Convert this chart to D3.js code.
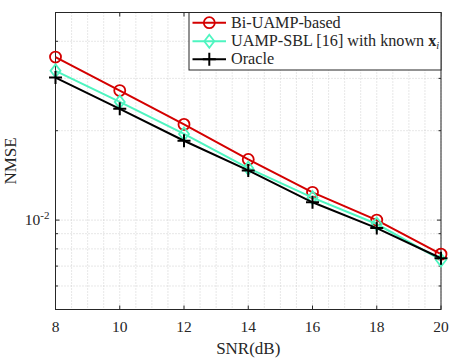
<!DOCTYPE html>
<html><head><meta charset="utf-8">
<script src="https://cdn.jsdelivr.net/npm/d3@7"></script>
<style>body{margin:0;background:#fff}svg{display:block}svg text{font-family:"Liberation Serif","Times New Roman",serif}</style>
</head><body>
<svg id="c" width="450" height="358"></svg>
<script>
const snr = [8, 10, 12, 14, 16, 18, 20];
const biUAMP = [0.0354, 0.0273, 0.0210, 0.0160, 0.0124, 0.0100, 0.00768];
const uampSBL = [0.0318, 0.0250, 0.0195, 0.01495, 0.0119, 0.0097, 0.00734];
const oracle = [0.0302, 0.0237, 0.0185, 0.0147, 0.01148, 0.0094, 0.00744];
const xTicks = [8, 10, 12, 14, 16, 18, 20];
const yMajor = [0.01];
const yMinor = [0.006, 0.007, 0.008, 0.009, 0.02, 0.03, 0.04];
const seriesNames = ["Bi-UAMP-based", "UAMP-SBL [16] with known x_i", "Oracle"];
const colors = ["#d40000", "#4ef5c0", "#000000"];

const svg = d3.select("#c");
const L = 55.5, R = 441, T = 12.5, B = 309.5;
const x = d3.scaleLinear().domain([8, 20]).range([L, R]);
const y = d3.scaleLog().domain([0.005, 0.05]).range([B, T]);
const axisCol = "#262626";

// grid
const g = svg.append("g");
const xMinor = d3.range(8, 20.01, 0.5);
g.selectAll(".gx").data(xMinor).enter().append("line")
  .attr("x1", d => x(d)).attr("x2", d => x(d)).attr("y1", T).attr("y2", B)
  .attr("stroke", "#c4c4c4").attr("stroke-width", 0.8).attr("stroke-dasharray", "1,2");
g.selectAll(".gy").data(yMinor.concat(yMajor)).enter().append("line")
  .attr("y1", d => y(d)).attr("y2", d => y(d)).attr("x1", L).attr("x2", R)
  .attr("stroke", "#c4c4c4").attr("stroke-width", 0.8).attr("stroke-dasharray", "1,2");

// axes box
svg.append("rect").attr("x", L).attr("y", T).attr("width", R - L).attr("height", B - T)
  .attr("fill", "none").attr("stroke", axisCol).attr("stroke-width", 1);

// ticks inward
const ax = svg.append("g").attr("stroke", axisCol).attr("stroke-width", 1);
xTicks.forEach(t => {
  ax.append("line").attr("x1", x(t)).attr("x2", x(t)).attr("y1", B).attr("y2", B - 4);
  ax.append("line").attr("x1", x(t)).attr("x2", x(t)).attr("y1", T).attr("y2", T + 4);
});
yMajor.forEach(t => {
  ax.append("line").attr("x1", L).attr("x2", L + 4).attr("y1", y(t)).attr("y2", y(t));
  ax.append("line").attr("x1", R).attr("x2", R - 4).attr("y1", y(t)).attr("y2", y(t));
});
yMinor.forEach(t => {
  ax.append("line").attr("x1", L).attr("x2", L + 2.5).attr("y1", y(t)).attr("y2", y(t));
  ax.append("line").attr("x1", R).attr("x2", R - 2.5).attr("y1", y(t)).attr("y2", y(t));
});

// tick labels
svg.selectAll(".xl").data(xTicks).enter().append("text")
  .attr("x", d => x(d)).attr("y", 332).attr("text-anchor", "middle")
  .attr("font-size", 15.5).attr("fill", "#262626").text(d => d);
const yl = svg.append("text").attr("x", L - 6).attr("y", y(0.01) + 5).attr("text-anchor", "end")
  .attr("font-size", 15.5).attr("fill", "#262626");
yl.append("tspan").text("10");
yl.append("tspan").attr("dy", -6).attr("font-size", 11).text("-2");

svg.append("text").attr("x", (L + R) / 2).attr("y", 354).attr("text-anchor", "middle")
  .attr("font-size", 17).attr("fill", "#262626").text("SNR(dB)");
svg.append("text").attr("transform", `translate(16,${(T + B) / 2}) rotate(-90)`)
  .attr("text-anchor", "middle").attr("font-size", 17)
  .attr("fill", "#262626").text("NMSE");

// series
const data = [biUAMP, uampSBL, oracle];
const line = d3.line().x((d, i) => x(snr[i])).y(d => y(d));
function marker(sel, k, cx, cy) {
  const c = colors[k];
  if (k === 0) sel.append("circle").attr("cx", cx).attr("cy", cy).attr("r", 5.5)
    .attr("fill", "none").attr("stroke", c).attr("stroke-width", 1.8);
  else if (k === 1) sel.append("path")
    .attr("d", `M${cx},${cy - 6.5}L${cx + 5},${cy}L${cx},${cy + 6.5}L${cx - 5},${cy}Z`)
    .attr("fill", "none").attr("stroke", c).attr("stroke-width", 1.8);
  else sel.append("path")
    .attr("d", `M${cx - 6.5},${cy}H${cx + 6.5}M${cx},${cy - 6.5}V${cy + 6.5}`)
    .attr("stroke", c).attr("stroke-width", 2);
}
data.forEach((vals, k) => {
  const s = svg.append("g");
  s.append("path").datum(vals).attr("d", line).attr("fill", "none")
    .attr("stroke", colors[k]).attr("stroke-width", 2);
  vals.forEach((v, i) => marker(s, k, x(snr[i]), y(v)));
});

// legend
const lg = svg.append("g");
lg.append("rect").attr("x", 189).attr("y", T).attr("width", R - 189).attr("height", 57.5)
  .attr("fill", "#fff").attr("stroke", axisCol).attr("stroke-width", 1);
const rows = [22.7, 41.3, 59.3];
seriesNames.forEach((name, k) => {
  const ry = rows[k];
  lg.append("line").attr("x1", 192.5).attr("x2", 226).attr("y1", ry).attr("y2", ry)
    .attr("stroke", colors[k]).attr("stroke-width", 2);
  marker(lg, k, 209.3, ry);
  const t = lg.append("text").attr("x", 231).attr("y", ry + 5)
    .attr("font-size", 16.2).attr("fill", "#262626");
  if (name.endsWith("x_i")) {
    t.append("tspan").text(name.slice(0, -3));
    t.append("tspan").attr("font-weight", "bold").text("x");
    t.append("tspan").attr("font-style", "italic").attr("font-size", 10.5).attr("dy", 3).text("i");
  } else t.text(name);
});
</script>
</body></html>
